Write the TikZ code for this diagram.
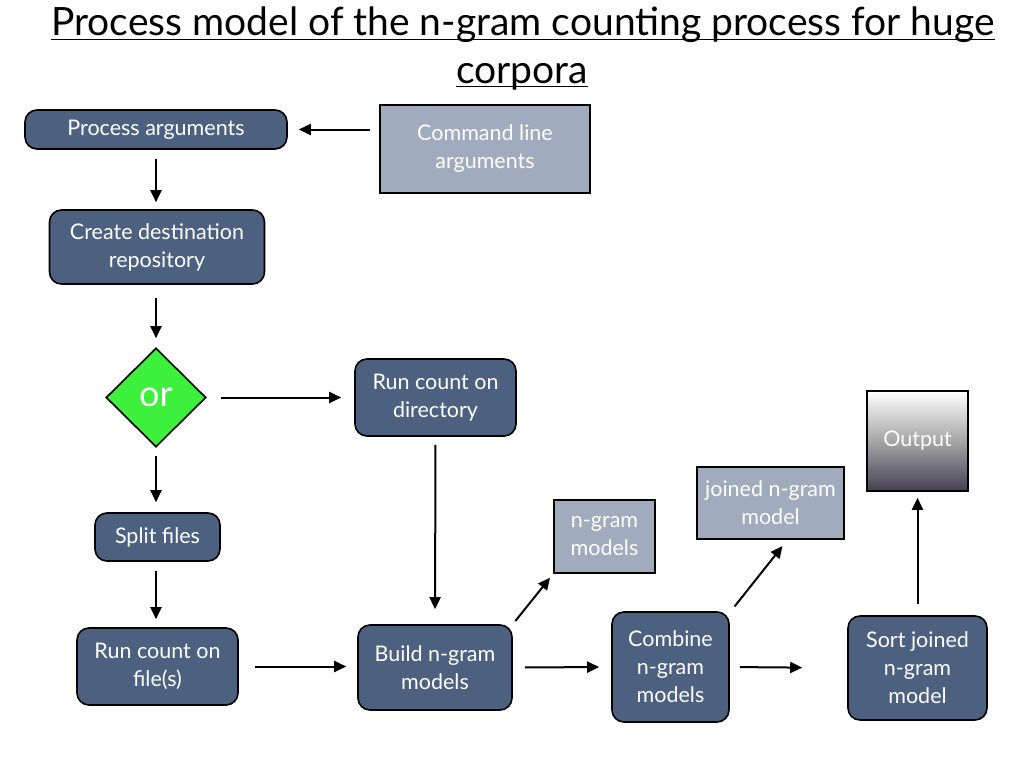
\documentclass[tikz,border=0pt]{standalone}
\usepackage{fontspec}
\setmainfont{Lato}
\newfontfamily\titlefont{Lato}
\usetikzlibrary{arrows.meta,shapes.geometric}
\definecolor{darkbox}{RGB}{76,97,128}
\definecolor{lightbox}{RGB}{160,172,189}
\definecolor{orgreen}{RGB}{60,240,60}
\definecolor{outdark}{RGB}{68,64,84}
\tikzset{
  proc/.style={draw=black, line width=1.6pt, fill=darkbox, rounded corners=12pt,
    text=white, align=center, inner sep=0pt, font=\fontsize{21.5}{28}\selectfont},
  data/.style={draw=black, line width=1.6pt, fill=lightbox,
    text=white, align=center, inner sep=0pt, font=\fontsize{21.5}{28}\selectfont},
  arr/.style={draw=black, line width=2pt, -{Triangle[length=12pt,width=11pt]}},
  ttl/.style={font=\titlefont\fontsize{39}{44}\selectfont, anchor=base, inner sep=0pt},
}
\begin{document}
\begin{tikzpicture}[x=1pt,y=-1pt]
\useasboundingbox (0,0) rectangle (1024,768);
\fill[white] (0,0) rectangle (1024,768);
% title
\node[ttl] (t1) at (523,36) {Process model of the n-gram counting process for huge};
\node[ttl] (t2) at (522,83) {corpora};
\draw[line width=1.4pt] ([yshift=-3.5pt]t1.base west) -- ([yshift=-3.5pt]t1.base east);
\draw[line width=1.4pt] ([yshift=-3.5pt]t2.base west) -- ([yshift=-3.5pt]t2.base east);
% nodes
\node[proc, minimum width=262pt, minimum height=39pt] (proc) at (156,129.5) {Process arguments};
\node[data, minimum width=210pt, minimum height=88pt] (cmd) at (485,149) {Command line\\arguments};
\node[proc, minimum width=215pt, minimum height=74pt] (create) at (157,247) {Create destination\\repository};
\node[diamond, draw=black, line width=1.6pt, fill=orgreen, text=white, inner sep=0pt,
      minimum width=100pt, minimum height=99pt, font=\fontsize{36}{36}\selectfont] (or) at (156,397.5) {or};
\node[proc, minimum width=161pt, minimum height=77pt] (rundir) at (435.5,397.5) {Run count on\\directory};
\node[proc, minimum width=125pt, minimum height=48pt] (split) at (157.5,537) {Split files};
\node[proc, minimum width=161pt, minimum height=77pt] (runf) at (157.5,666.5) {Run count on\\file(s)};
\node[proc, minimum width=154pt, minimum height=85pt] (build) at (435,667.5) {Build n-gram\\models};
\node[data, minimum width=101pt, minimum height=73pt] (ngm) at (604.5,536.5) {n-gram\\models};
\node[data, minimum width=147pt, minimum height=72pt] (joined) at (770.5,503) {joined n-gram\\model};
\node[draw=black, line width=1.6pt, top color=white, bottom color=outdark, middle color=gray!70,
      text=white, inner sep=0pt, minimum width=101pt, minimum height=100pt,
      font=\fontsize{21.5}{28}\selectfont] (out) at (917.5,441) {Output};
\node[proc, minimum width=117pt, minimum height=110pt] (comb) at (670.5,667) {Combine\\n-gram\\models};
\node[proc, minimum width=139pt, minimum height=104pt] (sort) at (917.5,668) {Sort joined\\n-gram\\model};
% connectors
\draw[arr, shorten <=9pt, shorten >=11pt] (proc.east -| cmd.west) -- (proc.east);
\draw[arr, shorten <=9pt, shorten >=7pt] (proc.south) -- (create.north -| proc.south);
\draw[arr, shorten <=13pt, shorten >=9pt] (create.south -| or.north) -- (or.north);
\draw[arr, shorten <=14pt, shorten >=13pt] (or.east) -- (rundir.west);
\draw[arr, shorten <=8pt, shorten >=10pt] (or.south) -- (split.north -| or.south);
\draw[arr, shorten <=9pt, shorten >=8pt] (split.south -| or.south) -- (runf.north -| or.south);
\draw[arr, shorten <=8pt, shorten >=15pt] (rundir.south) -- (build.north);
\draw[arr, shorten <=16pt, shorten >=11pt] (runf.east) -- (runf.east -| build.west);
\draw[arr, shorten <=4pt, shorten >=5pt] (build.north east) -- (ngm.south west);
\draw[arr, shorten <=12pt, shorten >=12pt] (build.east) -- (comb.west);
\draw[arr, shorten <=6pt, shorten >=8pt] ([xshift=1pt]comb.north east) -- ([xshift=17pt]joined.south);
\draw[arr, shorten <=10pt, shorten >=45pt] (comb.east) -- (sort.west);
\draw[arr, shorten <=11pt, shorten >=6pt] (sort.north) -- (out.south);
\end{tikzpicture}
\end{document}
